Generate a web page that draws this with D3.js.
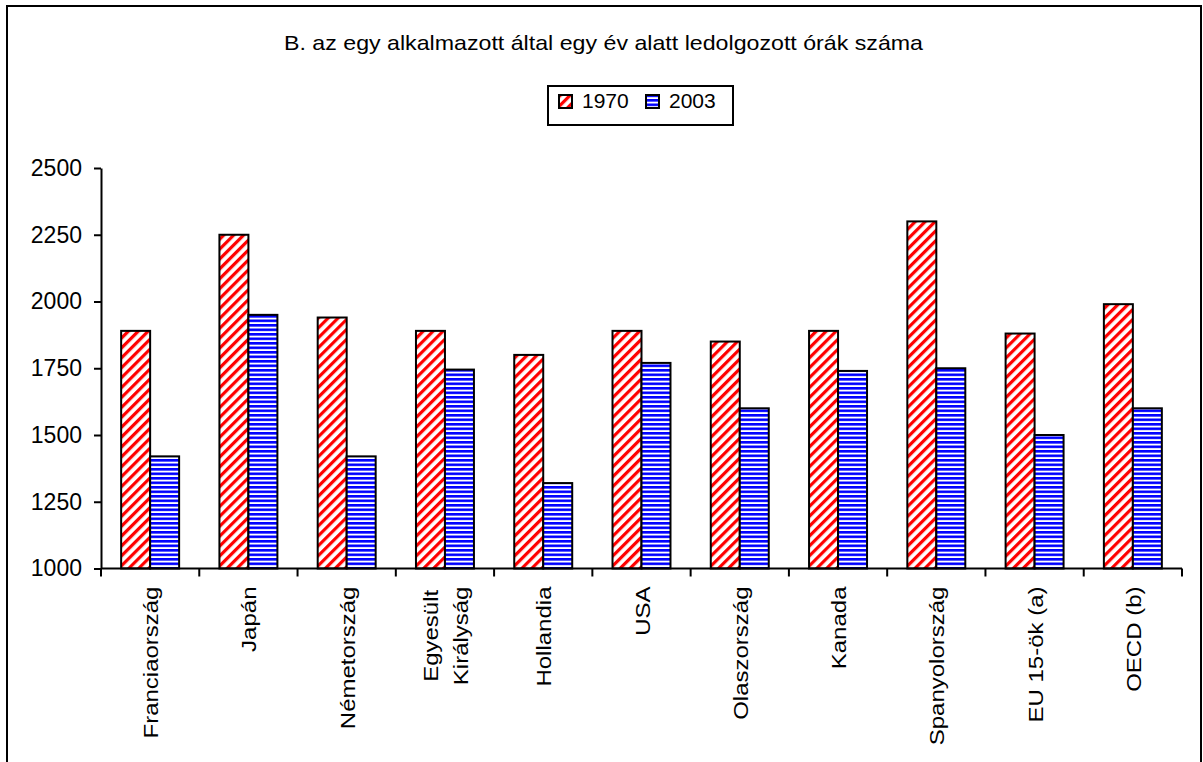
<!DOCTYPE html>
<html><head><meta charset="utf-8">
<script src="https://cdn.jsdelivr.net/npm/d3@7"></script>
<style>
html,body{margin:0;padding:0;background:#fff;}
svg{display:block;font-family:"Liberation Sans",Arial,sans-serif;}
</style></head>
<body>
<script>
const categories = ["Franciaország","Japán","Németország","Egyesült Királyság","Hollandia","USA","Olaszország","Kanada","Spanyolország","EU 15-ök (a)","OECD (b)"];
const categoryLines = [["Franciaország"],["Japán"],["Németország"],["Egyesült","Királyság"],["Hollandia"],["USA"],["Olaszország"],["Kanada"],["Spanyolország"],["EU 15-ök (a)"],["OECD (b)"]];
const series = ["1970","2003"];
const values1970 = [1890,2250,1940,1890,1800,1890,1850,1890,2300,1880,1990];
const values2003 = [1420,1950,1420,1745,1320,1770,1600,1740,1750,1500,1600];
const yTicks = [1000,1250,1500,1750,2000,2250,2500];
const title = "B. az egy alkalmazott által egy év alatt ledolgozott órák száma";

(function(){
const W = 1203, H = 762;
const svg = d3.select("body").append("svg").attr("width", W).attr("height", H);
const defs = svg.append("defs");

const pr = defs.append("pattern").attr("id","hatchRed").attr("patternUnits","userSpaceOnUse")
  .attr("width",7).attr("height",7).attr("patternTransform","rotate(45)");
pr.append("rect").attr("width",7).attr("height",7).attr("fill","#fff");
pr.append("rect").attr("x",0).attr("width",3.2).attr("height",7).attr("fill","#ff0000");

const pb = defs.append("pattern").attr("id","hatchBlue").attr("patternUnits","userSpaceOnUse")
  .attr("width",8).attr("height",4.5);
pb.append("rect").attr("width",8).attr("height",4.5).attr("fill","#fff");
pb.append("rect").attr("y",0).attr("width",8).attr("height",2.6).attr("fill","#0000ff");

// outer frame
svg.append("path").attr("d", `M7,${H+5} L7,6 L1201,6 L1201,${H+5}`)
  .attr("fill","none").attr("stroke","#000").attr("stroke-width",2);

const pL = 101, pR = 1182, pT = 168, pB = 568.5;
const y = d3.scaleLinear().domain([1000,2500]).range([pB, pT]);
const x0 = d3.scaleBand().domain(categories).range([pL, pR]).paddingInner(0).paddingOuter(0);
const x1 = d3.scaleBand().domain(series).range([0, x0.bandwidth()]).paddingInner(0).paddingOuter(0.695);

// title
svg.append("text").attr("x", 603.5).attr("y", 50).attr("text-anchor","middle")
  .attr("font-size", 21).attr("textLength", 639).attr("lengthAdjust","spacingAndGlyphs").text(title);

// legend
const lg = svg.append("g");
lg.append("rect").attr("x",548).attr("y",86).attr("width",185).attr("height",39)
  .attr("fill","#fff").attr("stroke","#000").attr("stroke-width",2);
const fills = {"1970":"url(#hatchRed)","2003":"url(#hatchBlue)"};
const legX = [559, 646];
series.forEach((s,i)=>{
  lg.append("rect").attr("x",legX[i]).attr("y",95).attr("width",13).attr("height",13)
    .attr("fill",fills[s]).attr("stroke","#000").attr("stroke-width",2);
  lg.append("text").attr("x",legX[i]+23).attr("y",108).attr("font-size",21).text(s);
});

// y axis
const yAxis = d3.axisLeft(y).tickValues(yTicks).tickFormat(d3.format("d")).tickSize(7).tickSizeOuter(0).tickPadding(12);
const gy = svg.append("g").attr("transform",`translate(${pL},0)`).call(yAxis);
gy.selectAll("text").attr("font-size",23).attr("fill","#000").attr("font-family","Liberation Sans, Arial, sans-serif");
gy.selectAll("line").attr("stroke","#000").attr("stroke-width",2);
gy.select(".domain").attr("stroke","#000").attr("stroke-width",2);

// bars
const data = categories.map((c,i)=>({c, v:{"1970":values1970[i],"2003":values2003[i]}}));
const groups = svg.append("g").selectAll("g").data(data).join("g")
  .attr("transform", d=>`translate(${x0(d.c)},0)`);
groups.selectAll("rect").data(d=>series.map(s=>({s, v:d.v[s]}))).join("rect")
  .attr("x", d=>x1(d.s)).attr("width", x1.bandwidth())
  .attr("y", d=>y(d.v)).attr("height", d=>pB - y(d.v))
  .attr("fill", d=>fills[d.s]).attr("stroke","#000").attr("stroke-width",2);

// x axis
const gx = svg.append("g").attr("transform",`translate(0,${pB})`);
gx.append("line").attr("x1",pL).attr("x2",pR).attr("stroke","#000").attr("stroke-width",2);
const bounds = categories.map(c=>x0(c)).concat([pR]);
gx.selectAll("line.tk").data(bounds).join("line").attr("class","tk")
  .attr("x1",d=>d).attr("x2",d=>d).attr("y1",0).attr("y2",8).attr("stroke","#000").attr("stroke-width",2);

// x labels (rotated, top-aligned block, lines centred within block)
const stretch = 1.2;
categories.forEach((c,i)=>{
  const cx = x0(c) + x0.bandwidth()/2;
  const lines = categoryLines[i];
  const lh = 30;
  const g = svg.append("g");
  const texts = lines.map((ln,j)=>{
    const off = (j - (lines.length-1)/2) * lh;
    return g.append("text")
      .attr("font-size",20).attr("text-anchor","middle").text(ln)
      .attr("data-off", off);
  });
  const maxLen = d3.max(texts, t=>t.node().getComputedTextLength()) * stretch;
  texts.forEach(t=>{
    const off = +t.attr("data-off");
    t.attr("transform",`translate(${cx + off + 8},${pB + 18 + maxLen/2}) rotate(-90) scale(${stretch},1)`);
  });
});
})();
</script>
</body></html>
